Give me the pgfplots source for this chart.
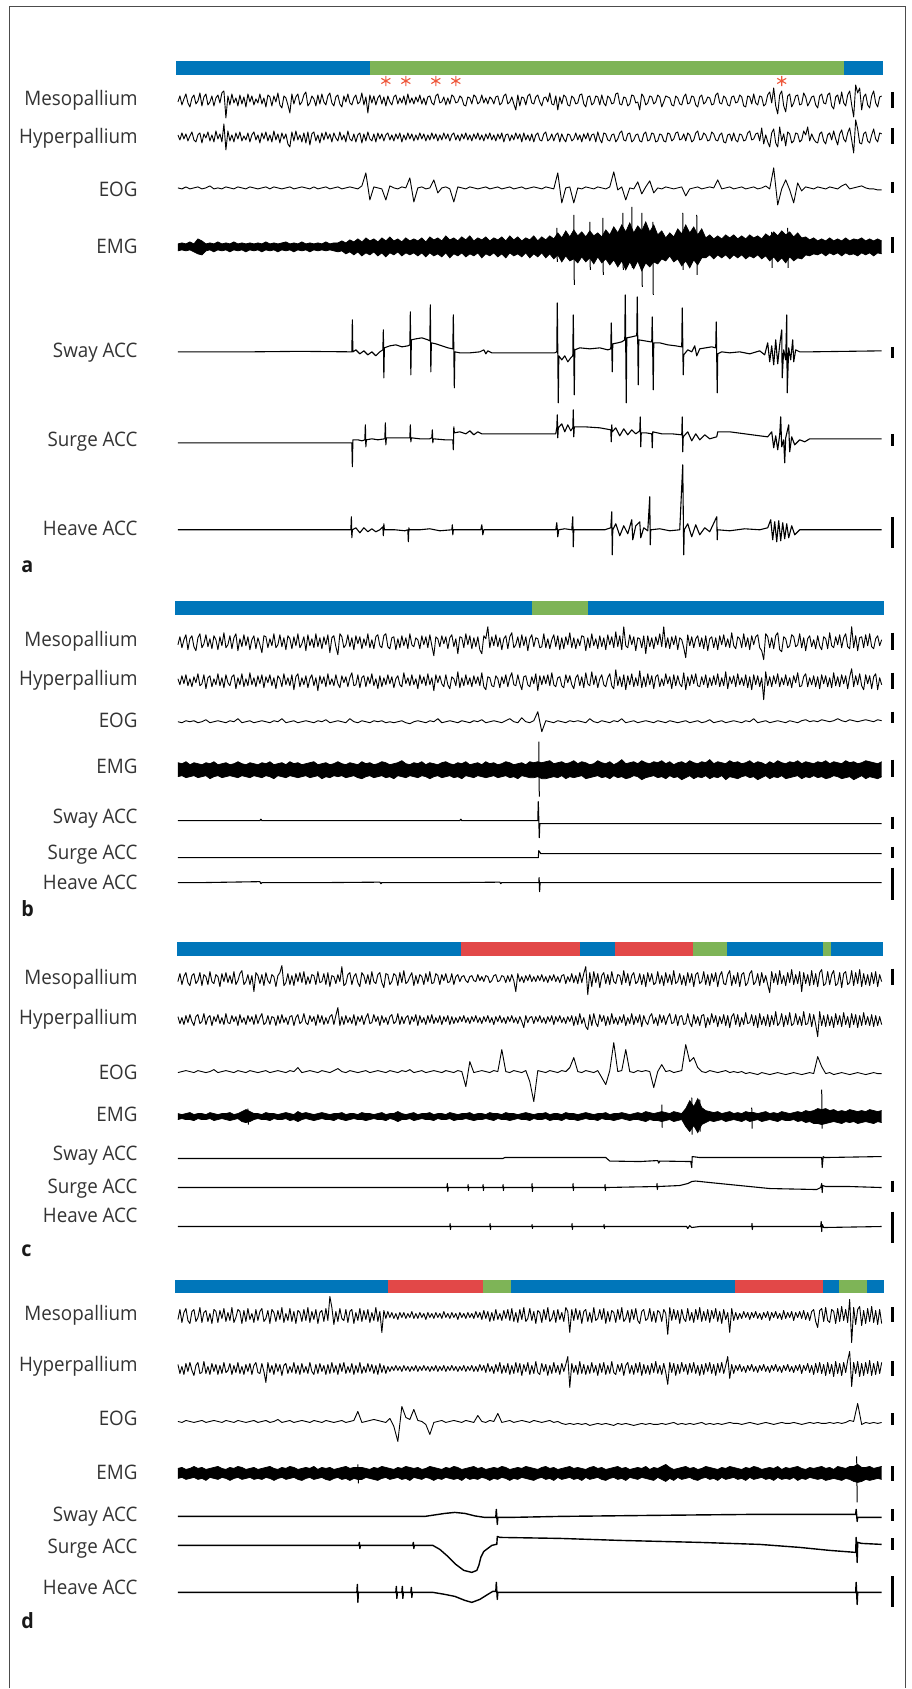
\documentclass[border=0pt]{standalone}
\usepackage{fontspec}
\setmainfont{Open Sans}[FakeStretch=0.94]
\usepackage{pgfplots}
\usepackage{pgfplotstable}
\usepgfplotslibrary{fillbetween}
\pgfplotsset{compat=1.18}

\definecolor{cblue}{RGB}{0,118,186}
\definecolor{cgreen}{RGB}{126,180,87}
\definecolor{cred}{RGB}{226,72,72}
\definecolor{cstar}{RGB}{238,88,60}

\tikzset{
  lab/.style={anchor=base east, inner sep=0pt, text=black!80, font=\fontsize{10}{12}\selectfont},
  plet/.style={anchor=base west, inner sep=0pt, text=black!90, font=\fontsize{10.5}{12}\selectfont\bfseries},
}

% EEG traces: x = pixel column, m = Mesopallium, h = Hyperpallium (offsets in px, + = down)
\pgfplotstableread{
x m h
178 2 -2
180 -4 3
182 5 -4
184 -1 2
186 -6 -3
188 3 4
190 7 -1
192 -2 -5
194 -5 3
196 4 5
198 1 -2
200 -7 -4
202 6 6
204 -3 -3
206 -6 1
208 5 -5
210 2 4
212 -4 -2
214 6 5
216 -2 -6
218 -5 2
220 3 -3
222 -7 5
224 -9 -13
226 18 13
228 -4 -6
230 5 4
232 -6 -2
234 3 5
236 -2 -4
238 6 2
240 -5 -5
242 4 4
244 -3 -1
246 7 3
248 -6 -4
250 2 5
252 -4 -2
254 5 -5
256 -1 3
258 3 -2
260 -6 6
262 4 -4
264 -2 2
266 7 -5
268 -5 4
270 -3 -2
272 6 5
274 -4 -6
276 2 3
278 -7 -3
280 5 6
282 8 -4
284 -4 2
286 -2 -3
288 5 7
290 13 10
292 -6 -5
294 4 4
296 -3 -6
298 -6 3
300 5 -2
302 2 5
304 -5 -4
306 -8 6
308 6 -5
310 3 8
312 -4 -3
314 -1 -5
316 6 4
318 -5 -2
320 4 6
322 -6 -4
324 2 3
326 5 -5
328 -4 2
330 -7 -3
332 3 5
334 6 -4
336 -3 1
338 -5 4
340 4 -5
342 7 3
344 -4 -2
346 2 5
348 -6 -6
350 3 2
352 5 4
354 -2 -3
356 -5 5
358 4 -2
360 2 -4
362 -7 6
364 5 -3
366 -3 4
368 13 -5
370 -5 2
372 3 4
374 -4 -3
376 5 5
378 -2 -4
380 -5 2
382 4 -3
384 -3 4
386 6 -2
388 -4 -4
390 2 3
392 5 -2
394 -3 4
396 -5 -3
398 4 2
400 -2 -4
402 3 5
404 -4 -2
406 5 3
408 -6 -4
410 3 2
412 -2 -3
414 4 4
416 -3 -2
418 2 3
420 -5 -4
422 4 2
424 -2 -3
426 5 4
428 -3 -2
430 -4 3
432 3 -4
434 5 2
436 -4 -3
438 -6 4
440 3 -2
442 2 3
444 -3 -4
446 5 2
448 -2 -3
450 4 4
452 -5 -2
454 -3 -4
456 3 3
458 2 -2
460 -4 4
462 -2 -3
464 5 2
466 6 -4
468 -3 3
470 -2 -2
472 4 4
474 -5 -3
476 -3 2
478 4 -4
480 2 3
482 -5 -2
484 3 4
486 -2 -3
488 4 2
490 -3 -4
492 -1 3
494 4 -2
496 -3 4
498 -4 -3
500 5 2
502 3 -4
504 -4 5
506 -6 -2
508 4 -3
510 2 4
512 -3 -2
514 4 3
516 10 -4
518 -5 2
520 6 -3
522 -3 5
524 -2 -4
526 5 3
528 -4 -2
530 -6 4
532 3 -3
534 4 5
536 -3 -2
538 -5 -4
540 2 3
542 6 4
544 -2 -3
546 -3 -5
548 2 4
550 -7 2
552 4 -3
554 5 4
556 -4 -2
558 10 -4
560 -3 5
562 4 -3
564 -5 2
566 -3 5
568 5 -3
570 6 -2
572 -4 4
574 -2 2
576 4 -4
578 3 3
580 -5 -2
582 -6 5
584 4 -3
586 7 2
588 -3 -4
590 -4 4
592 5 -2
594 3 -3
596 -4 5
598 -3 -5
600 5 2
602 -5 6
604 3 -4
606 6 -3
608 -4 3
610 -2 4
612 4 -2
614 3 -3
616 -6 5
618 -7 2
620 4 -4
622 5 -6
624 -3 3
626 -2 4
628 6 -3
630 4 -4
632 -5 5
634 -4 3
636 3 -2
638 2 -3
640 10 4
642 -6 5
644 -3 -3
646 5 -5
648 3 4
650 -4 3
652 -3 -4
654 4 -3
656 2 5
658 -5 4
660 -3 -3
662 7 -2
664 2 4
666 -4 5
668 -3 -4
670 -2 -3
672 5 4
674 6 2
676 -4 -4
678 -2 -5
680 4 3
682 5 2
684 -3 -3
686 -6 4
688 4 -4
690 3 -2
692 -4 5
694 -3 3
696 5 -4
698 7 -6
700 -3 3
702 -5 2
704 4 -4
706 2 -2
708 -3 4
710 -2 3
712 5 -5
714 4 -3
716 -5 3
718 -7 4
720 3 -2
722 4 -4
724 -4 5
726 -2 6
728 5 -2
730 6 -3
732 -3 4
734 -4 -4
736 3 3
738 2 5
740 -5 -3
742 -3 -2
744 6 4
746 7 3
748 -4 -4
750 -3 -6
752 4 3
754 -6 2
756 3 -3
758 5 -4
760 -4 4
762 -3 -9
764 6 7
766 4 -2
768 -5 5
770 -8 10
772 3 -4
774 -12 -8
776 6 6
778 14 10
780 -5 -10
782 -9 4
784 6 -3
786 12 9
788 -4 -5
790 -6 -3
792 7 6
794 3 4
796 -4 -4
798 -5 -3
800 5 5
802 4 3
804 -7 -6
806 -3 -2
808 6 -10
810 2 4
812 -3 -3
814 -4 2
816 5 5
818 8 6
820 -4 -3
822 -6 -5
824 3 4
826 4 7
828 -5 -2
830 -7 -4
832 6 3
834 9 -6
836 -3 2
838 -5 8
840 4 -3
842 -8 -7
844 3 2
846 6 5
848 -5 -4
850 -9 -9
852 5 3
854 17 16
856 -15 -17
858 -7 -8
860 -12 6
862 10 7
864 -3 -3
866 -6 -5
868 5 4
870 8 6
872 -4 -2
874 -9 -8
876 3 2
878 7 5
880 -3 -4
882 -4 -3
}\eegA

\pgfplotstableread{
x m h
178 3 -2
180 -5 4
182 6 -5
184 -2 3
186 -7 -6
188 8 5
190 -3 -2
192 -6 6
194 5 -4
196 9 2
198 -4 -7
200 -8 5
202 6 3
204 2 -6
206 -7 8
208 5 -3
210 -3 -5
212 7 6
214 -6 -2
216 -2 4
218 8 -7
220 -5 5
222 4 -3
224 -9 7
226 6 -6
228 3 2
230 -6 5
232 7 -4
234 -4 -6
236 -8 8
238 9 -3
240 -3 4
242 5 -7
244 -7 6
246 4 -2
248 -5 5
250 8 -8
252 -2 4
254 -6 -3
256 7 6
258 -4 -5
260 3 3
262 11 -6
264 -6 7
266 -5 -4
268 6 2
270 -3 -6
272 4 5
274 -8 -3
276 6 8
278 3 -5
280 -7 -2
282 5 6
284 -4 -7
286 8 4
288 -6 -3
290 -3 5
292 7 -6
294 -5 9
296 4 -4
298 -8 -7
300 6 6
302 2 -3
304 -5 4
306 9 -5
308 -7 7
310 4 -2
312 -3 -6
314 6 5
316 -8 -3
318 5 10
320 -4 -5
322 7 3
324 -5 -4
326 3 6
328 -7 -7
330 11 4
332 -4 -2
334 -6 5
336 5 -6
338 13 3
340 -8 7
342 -5 -5
344 6 2
346 3 -4
348 -7 6
350 5 -3
352 -4 -8
354 8 5
356 -6 4
358 2 -6
360 -5 7
362 7 -3
364 -3 -5
366 4 6
368 -8 -4
370 6 3
372 -2 -7
374 7 5
376 -5 -2
378 -7 8
380 4 -5
382 6 6
384 -6 -3
386 -8 4
388 5 -6
390 7 3
392 -4 -4
394 -5 7
396 8 -2
398 -3 -5
400 6 4
402 -6 6
404 4 -8
406 -4 3
408 7 -3
410 -8 5
412 3 -6
414 5 4
416 -4 -2
418 -2 8
420 7 -6
422 -6 3
424 3 -4
426 -5 5
428 6 -7
430 -7 4
432 4 -3
434 14 10
436 -5 -6
438 -3 2
440 5 -5
442 -6 3
444 2 6
446 -5 -6
448 7 4
450 -4 8
452 -7 -4
454 5 -2
456 -3 5
458 12 -9
460 -5 7
462 -4 -3
464 6 5
466 -8 -6
468 3 4
470 -6 -3
472 7 6
474 -4 -5
476 5 3
478 -5 -4
480 8 5
482 12 -8
484 -6 6
486 -3 9
488 -15 -4
490 6 -3
492 -5 5
494 4 6
496 -7 -5
498 5 -2
500 -4 7
502 8 -4
504 -3 3
506 -6 -6
508 7 6
510 -5 -3
512 -9 -8
514 6 4
516 3 5
518 -5 -6
520 6 3
522 -7 9
524 4 -4
526 -5 -5
528 9 4
530 -3 6
532 -7 -4
534 5 3
536 -4 -7
538 -3 10
540 6 -5
542 5 4
544 -8 -5
546 6 3
548 -3 -6
550 7 5
552 -2 -8
554 -7 4
556 5 6
558 -6 -3
560 8 -4
562 -4 5
564 7 7
566 -5 -6
568 3 2
570 -9 -5
572 6 4
574 -4 8
576 7 -3
578 -3 -6
580 4 5
582 -6 -4
584 -5 7
586 9 -8
588 -4 3
590 6 5
592 -8 -9
594 4 4
596 -3 -5
598 7 7
600 -6 -2
602 5 -6
604 -4 4
606 8 6
608 -7 -3
610 3 -7
612 -5 5
614 6 8
616 -10 -11
618 5 5
620 -6 -4
622 8 6
624 -15 -6
626 4 9
628 6 -5
630 -7 4
632 3 -7
634 -5 6
636 9 -3
638 -4 5
640 -3 -10
642 6 7
644 -6 -4
646 12 6
648 -6 -7
650 5 4
652 -4 -5
654 7 8
656 -5 -4
658 3 -6
660 -8 6
662 5 -2
664 -15 5
666 6 -7
668 -4 3
670 7 -4
672 -5 8
674 3 -6
676 -6 5
678 8 -5
680 -4 3
682 -2 6
684 6 -8
686 16 9
688 -7 -4
690 4 5
692 -5 -6
694 6 3
696 -3 -7
698 -6 5
700 5 6
702 -4 -4
704 7 4
706 -6 -6
708 9 7
710 -3 -3
712 -5 5
714 6 -5
716 -4 4
718 8 -7
720 -6 6
722 3 -3
724 -7 5
726 5 -9
728 -3 8
730 6 -4
732 -9 3
734 4 -5
736 7 6
738 -5 -7
740 -3 4
742 6 -3
744 -8 5
746 5 -6
748 -4 7
750 8 -4
752 -6 9
754 3 -6
756 -5 4
758 -7 -5
760 6 6
762 9 -3
764 18 19
766 -8 -9
768 -5 5
770 6 -4
772 -4 6
774 7 -5
776 -6 3
778 -9 -7
780 8 6
782 10 -3
784 -5 4
786 -3 -6
788 6 5
790 4 -3
792 -7 7
794 -5 -5
796 5 2
798 3 -8
800 -8 6
802 6 5
804 -4 -4
806 9 -7
808 -3 6
810 -6 -3
812 5 4
814 -2 -5
816 7 6
818 -6 -4
820 4 8
822 8 -6
824 -5 3
826 -3 -5
828 7 6
830 -9 -3
832 4 7
834 6 -8
836 -5 5
838 3 -4
840 -7 6
842 6 -6
844 -4 3
846 -8 -5
848 5 8
850 7 -4
852 -15 -12
854 6 6
856 -6 -5
858 9 4
860 -4 -7
862 -5 5
864 6 9
866 -7 -6
868 4 3
870 -8 -5
872 5 8
874 7 -4
876 -3 -7
878 -6 9
880 4 -3
882 -2 4
}\eegB

\pgfplotstableread{
x m h
178 3 -3
180 -5 4
182 6 -2
184 -2 5
186 -6 -4
188 4 3
190 7 -5
192 -3 2
194 -5 6
196 5 -3
198 2 -5
200 -6 4
202 7 2
204 -4 -6
206 -2 5
208 6 -2
210 -7 -4
212 3 6
214 5 -3
216 -4 2
218 -2 -5
220 8 4
222 -5 -2
224 3 5
226 -6 -6
228 4 3
230 -3 4
232 5 -4
234 -7 2
236 6 -3
238 2 6
240 -5 -5
242 -8 3
244 6 -2
246 3 5
248 -4 -4
250 6 2
252 -3 -3
254 13 5
256 -6 -5
258 -3 4
260 5 -2
262 -4 -6
264 7 5
266 -6 3
268 2 -4
270 5 5
272 -4 -3
274 -2 -2
276 8 6
278 -3 -4
280 -6 4
282 -13 -5
284 7 3
286 4 -2
288 -5 5
290 6 -3
292 -3 -4
294 7 6
296 -5 -2
298 3 -5
300 -6 4
302 4 2
304 -7 -6
306 6 3
308 -2 5
310 5 -4
312 -4 2
314 -3 -3
316 6 6
318 -7 -5
320 4 3
322 3 -4
324 -5 5
326 6 -2
328 -6 4
330 8 -3
332 -3 -5
334 -2 5
336 5 -4
338 -4 -12
340 3 6
342 -12 -3
344 7 5
346 5 -4
348 -4 3
350 -6 -2
352 6 4
354 -2 -5
356 -5 6
358 4 -3
360 8 2
362 -6 -4
364 -3 5
366 5 -2
368 -4 -6
370 6 4
372 -7 3
374 3 -5
376 5 2
378 -4 -3
380 -6 6
382 4 -4
384 9 3
386 -5 -2
388 -4 5
390 6 -3
392 3 -5
394 -5 4
396 -3 2
398 7 -6
400 -6 5
402 4 -3
404 -8 4
406 5 -2
408 3 -4
410 -2 5
412 -6 -3
414 7 2
416 -3 -5
418 5 6
420 -4 -4
422 -2 3
424 6 -2
426 -5 5
428 3 -4
430 -7 3
432 5 -5
434 4 4
436 -5 -2
438 -3 3
440 6 -4
442 -4 5
444 2 -3
446 -5 2
448 4 -4
450 3 5
452 -5 -3
454 6 4
456 -2 -2
458 -4 3
460 3 -3
462 -2 2
464 -3 -4
466 2 3
468 4 -2
470 -2 4
472 -3 -3
474 2 2
476 3 -4
478 -4 3
480 2 -2
482 -2 4
484 3 -3
486 -3 2
488 -2 -4
490 4 3
492 2 -2
494 -3 5
496 -4 -3
498 3 2
500 2 -4
502 -3 3
504 -2 -2
506 4 4
508 -3 -3
510 3 2
512 -4 -4
514 2 3
516 13 -2
518 -5 4
520 3 -3
522 -2 2
524 4 8
526 -3 -4
528 2 3
530 -4 -2
532 3 -3
534 -2 4
536 3 -3
538 -3 2
540 2 -4
542 -4 3
544 3 -2
546 -2 4
548 4 -3
550 -3 2
552 2 -4
554 -4 5
556 3 -3
558 -2 2
560 4 -4
562 -3 3
564 -4 -2
566 5 4
568 -2 -3
570 3 2
572 -5 -4
574 4 6
576 -3 -3
578 5 5
580 -6 -6
582 4 4
584 -5 -2
586 -12 7
588 16 10
590 -6 -5
592 8 6
594 -7 -6
596 4 3
598 -5 7
600 9 -5
602 -3 2
604 -6 -4
606 5 6
608 -4 -3
610 6 5
612 -7 -6
614 3 4
616 5 -2
618 -4 5
620 -3 -3
622 6 3
624 -8 -5
626 4 6
628 -5 -2
630 7 4
632 -3 -6
634 -6 5
636 5 -3
638 3 3
640 -5 -5
642 6 7
644 -4 -4
646 8 2
648 -6 5
650 3 -3
652 -5 -6
654 6 4
656 4 -2
658 -7 6
660 5 -5
662 -3 3
664 7 -4
666 -6 5
668 4 -2
670 -4 -6
672 6 4
674 -8 3
676 5 -5
678 3 6
680 -5 -3
682 6 -4
684 -3 5
686 7 4
688 -6 -6
690 4 3
692 -5 7
694 8 -5
696 -4 4
698 -6 -3
700 5 6
702 3 -4
704 -7 -5
706 6 8
708 -4 -2
710 7 5
712 -5 -6
714 3 3
716 -6 -4
718 8 7
720 -3 -3
722 -7 4
724 5 -5
726 6 6
728 -4 -4
730 -8 8
732 7 -3
734 -3 -6
736 5 5
738 -6 -5
740 8 7
742 -4 -2
744 -6 5
746 7 -7
748 4 4
750 -5 3
752 -8 -5
754 6 6
756 3 -4
758 -5 8
760 7 -6
762 -6 5
764 4 -3
766 -3 6
768 6 -5
770 14 7
772 -7 -4
774 4 5
776 -5 -8
778 6 6
780 -8 3
782 5 -6
784 -3 7
786 7 -4
788 -6 5
790 4 -7
792 -9 6
794 6 4
796 -4 -6
798 5 5
800 -7 -3
802 13 6
804 -6 -8
806 5 5
808 -4 4
810 7 -6
812 -8 7
814 6 -5
816 -5 5
818 8 17
820 -6 -8
822 -9 6
824 7 -4
826 5 7
828 -7 -5
830 6 6
832 -4 -3
834 -8 8
836 7 -6
838 5 5
840 -6 -4
842 9 7
844 -5 -7
846 -7 5
848 6 -3
850 4 8
852 -8 -6
854 7 5
856 -6 -5
858 5 8
860 -9 -4
862 8 6
864 -5 -7
866 6 5
868 -4 -3
870 7 6
872 -6 -5
874 5 7
876 -7 -4
878 8 6
880 -4 -3
882 3 5
}\eegC

\pgfplotstableread{
x m h
178 4 -4
180 -6 5
182 7 -2
184 -3 6
186 -7 -5
188 5 3
190 8 -6
192 -4 2
194 -6 7
196 6 -3
198 2 -6
200 -8 5
202 7 4
204 -3 -7
206 -5 5
208 6 -2
210 -2 6
212 8 -5
214 -6 3
216 -4 -4
218 7 6
220 -5 -3
222 3 5
224 -7 -6
226 6 4
228 -3 2
230 5 -5
232 -8 6
234 7 -3
236 2 4
238 -6 -6
240 -4 5
242 8 -2
244 -5 6
246 6 -4
248 -7 3
250 4 -5
252 -2 6
254 7 -3
256 -6 -6
258 5 4
260 -4 5
262 -7 -5
264 6 3
266 3 14
268 -5 -6
270 8 4
272 -6 -3
274 -3 6
276 6 -5
278 -5 3
280 4 -4
282 -8 7
284 7 -3
286 -2 -5
288 5 5
290 -7 -2
292 6 4
294 -4 -6
296 8 5
298 -5 -3
300 -3 6
302 6 -5
304 -6 4
306 5 -2
308 -8 5
310 7 -6
312 -4 3
314 4 6
316 -6 -4
318 8 5
320 -3 -5
322 -5 3
324 6 -3
326 -7 6
328 5 -4
330 -19 5
332 -8 -6
334 9 4
336 -4 -3
338 6 6
340 -7 -5
342 3 3
344 5 -6
346 -6 5
348 7 -2
350 -4 4
352 -6 -5
354 8 6
356 -3 -3
358 5 4
360 -7 -6
362 6 5
364 -5 -2
366 4 4
368 -6 -5
370 7 3
372 -3 -4
374 5 5
376 -8 -3
378 6 6
380 -4 -5
382 17 4
384 -5 -3
386 3 5
388 -4 -2
390 2 3
392 -3 -2
394 3 2
396 -2 -3
398 4 2
400 -3 -2
402 2 3
404 -3 -3
406 3 2
408 -2 -2
410 2 3
412 -4 -2
414 3 2
416 -2 -3
418 3 3
420 -3 -2
422 2 2
424 -2 -3
426 4 2
428 -3 -2
430 2 3
432 -2 -2
434 3 2
436 -3 -3
438 2 3
440 -2 -2
442 3 2
444 -4 -3
446 2 3
448 -2 -2
450 3 2
452 -3 -3
454 2 2
456 -2 -2
458 4 3
460 -3 -2
462 2 2
464 -2 -3
466 3 3
468 -3 -2
470 2 2
472 -2 -3
474 3 3
476 -4 -2
478 2 3
480 -3 -4
482 4 2
484 -5 -3
486 3 4
488 -4 -5
490 6 3
492 -3 -2
494 5 5
496 -6 -4
498 4 3
500 -2 -6
502 5 5
504 -5 -3
506 3 4
508 -6 -5
510 5 6
512 -7 -3
514 6 5
516 -3 -6
518 7 4
520 -6 -5
522 4 7
524 -8 -4
526 6 3
528 3 -6
530 -7 6
532 5 -3
534 -4 5
536 8 -7
538 -5 4
540 -3 6
542 7 -5
544 -6 3
546 4 -4
548 -8 7
550 6 -3
552 3 5
554 -5 -6
556 7 4
558 -6 -3
560 4 6
562 -3 -5
564 6 3
566 -8 -4
568 -4 -12
570 17 19
572 -6 -5
574 5 4
576 -7 -3
578 4 6
580 -5 -7
582 8 5
584 -4 -4
586 -6 6
588 6 -3
590 -3 5
592 7 -6
594 -8 4
596 5 -3
598 3 7
600 -6 -5
602 4 4
604 -7 -6
606 8 6
608 -4 -3
610 6 5
612 -5 -7
614 -3 4
616 7 6
618 -6 -4
620 4 3
622 -8 -5
624 6 7
626 3 -3
628 -5 -6
630 7 5
632 -6 -3
634 4 6
636 -7 -5
638 5 4
640 8 -6
642 -4 7
644 -6 -4
646 5 5
648 3 -3
650 -7 6
652 6 -5
654 -4 4
656 7 -7
658 -5 5
660 -3 -3
662 6 6
664 -6 -5
666 -2 4
668 19 16
670 -8 -6
672 5 4
674 -6 -5
676 4 7
678 -5 -4
680 8 5
682 -6 -6
684 3 3
686 6 -4
688 -7 6
690 5 -5
692 -3 4
694 7 -6
696 -6 5
698 4 -3
700 -8 7
702 6 -4
704 -4 6
706 5 -5
708 -6 3
710 7 -6
712 -5 5
714 3 -4
716 -7 7
718 6 -5
720 -4 4
722 8 -6
724 -6 5
726 4 -3
728 -3 -12
730 17 10
732 -7 -4
734 5 5
736 -3 -3
738 4 2
740 -2 -4
742 3 3
744 -4 -2
746 2 4
748 -3 -3
750 4 2
752 -3 -4
754 2 3
756 -4 -2
758 3 4
760 -2 -3
762 4 2
764 -3 -4
766 2 3
768 -4 -2
770 5 4
772 -3 -3
774 2 2
776 -4 -4
778 3 3
780 -2 -2
782 4 4
784 -5 -3
786 3 2
788 -3 -4
790 2 3
792 -4 -2
794 5 4
796 -3 -3
798 2 2
800 -4 -4
802 3 5
804 -5 -3
806 4 2
808 -3 -5
810 5 4
812 -4 -3
814 -6 6
816 6 -5
818 12 4
820 -5 -6
822 -7 5
824 6 -4
826 -8 7
828 5 -6
830 7 5
832 -6 -4
834 -4 8
836 8 -7
838 -7 5
840 6 -5
842 -9 7
844 5 -6
846 -6 4
848 7 -8
850 -16 -17
852 27 18
854 -8 -6
856 9 5
858 -6 -7
860 -9 8
862 10 -5
864 -5 7
866 8 -6
868 -7 5
870 6 -8
872 -9 7
874 7 -5
876 -5 6
878 9 -7
880 -6 5
882 8 -6
}\eegD

% EOG (e) and EMG upper/lower envelope (u, l), offsets in px
\pgfplotstableread{
x e u l
178 0 -3 4
182 1 -4 3
186 -1 -3 4
190 1 -5 3
194 0 -3 5
198 -1 -8 7
202 1 -6 8
206 0 -3 4
210 -2 -4 3
214 1 -3 5
218 0 -5 3
222 1 -3 4
226 -1 -4 3
230 0 -3 5
234 1 -5 3
238 -1 -3 4
242 0 -4 3
246 1 -3 5
250 -1 -4 3
254 0 -3 4
258 1 -4 3
262 0 -3 5
266 -1 -5 3
270 1 -3 4
274 -1 -4 3
278 0 -3 5
282 1 -4 3
286 0 -5 4
290 -1 -3 3
294 1 -4 5
298 0 -3 3
302 -1 -5 4
306 0 -3 3
310 1 -4 5
314 -1 -3 3
318 1 -4 4
322 0 -3 3
326 -1 -5 4
330 1 -3 3
334 0 -4 4
338 -1 -4 5
342 1 -6 4
346 0 -4 7
350 -1 -7 5
354 0 -5 8
358 1 -8 5
362 -2 -5 9
366 -15 -9 6
370 12 -6 8
374 -1 -8 5
378 0 -5 9
382 1 -9 6
386 12 -6 10
390 -2 -10 6
394 0 -6 8
398 1 -8 5
402 -1 -5 9
406 0 -9 6
410 -10 -6 8
414 14 -8 6
418 0 -6 9
422 -1 -9 6
426 1 -5 10
430 0 -10 6
434 -8 -7 9
438 5 -9 7
442 0 -6 10
446 -1 -11 6
450 1 -7 11
454 14 -9 7
458 -1 -6 9
462 0 -10 6
466 1 -7 10
470 -1 -11 7
474 0 -6 9
478 1 -9 6
482 0 -7 11
486 -1 -10 7
490 1 -6 9
494 0 -9 6
498 -1 -7 10
502 1 -10 7
506 0 -6 11
510 -1 -11 6
514 1 -7 9
518 0 -10 7
522 -1 -6 10
526 1 -9 6
530 0 -7 11
534 -1 -11 7
538 0 -6 10
542 1 -10 6
546 -1 -7 11
550 0 -11 7
554 1 -8 12
558 -15 -14 8
562 15 -9 15
566 0 -16 9
570 -1 -10 14
574 15 -17 12
578 0 -11 16
582 1 -15 10
586 -1 -10 15
590 0 -16 11
594 1 -11 17
598 -1 -14 10
602 0 -10 16
606 1 -17 12
610 -1 -12 18
614 -16 -20 13
618 2 -14 20
622 -1 -22 14
626 12 -15 23
630 0 -24 15
634 1 -14 22
638 -6 -21 14
642 6 -16 24
646 -1 -25 16
650 -7 -15 20
654 5 -22 15
658 0 -12 17
662 1 -16 12
666 -1 -9 14
670 0 -14 9
674 1 -10 15
678 0 -18 12
682 -1 -13 19
686 8 -22 14
690 1 -14 21
694 0 -20 13
698 -1 -12 18
702 1 -18 11
706 0 -9 11
710 -1 -12 8
714 0 -8 12
718 -8 -11 8
722 1 -8 11
726 0 -12 8
730 -1 -9 12
734 1 -12 8
738 0 -8 11
742 -1 -11 8
746 1 -8 12
750 0 -12 9
754 -1 -9 11
758 1 -11 8
762 0 -8 12
766 -2 -13 9
770 1 -10 14
774 -20 -15 10
778 17 -11 15
782 1 -16 11
786 -8 -12 16
790 2 -15 10
794 15 -10 14
798 -5 -14 11
802 3 -9 12
806 -1 -10 8
810 0 -7 9
814 1 -9 7
818 -1 -6 8
822 0 -8 6
826 1 -6 9
830 -1 -9 6
834 0 -6 8
838 1 -8 6
842 -2 -6 9
846 -4 -9 6
850 1 -6 8
854 0 -8 7
858 -1 -7 9
862 -2 -9 6
866 0 -6 8
870 1 -8 6
874 1 -6 9
878 2 -8 6
882 2 -6 7
}\panelA

\pgfplotstableread{
x e u l
178 0 -7 7
182 1 -6 6
186 -1 -8 8
190 0 -5 7
194 -1 -7 6
198 1 -6 8
202 0 -5 7
206 -2 -7 6
210 1 -6 9
214 0 -8 7
218 -1 -5 6
222 0 -6 8
226 1 -7 7
230 -1 -5 6
234 0 -6 7
238 -3 -8 8
242 1 -6 6
246 0 -5 7
250 -1 -7 8
254 1 -6 6
258 0 -5 7
262 -1 -7 8
266 0 -6 6
270 1 -8 7
274 -1 -5 9
278 0 -6 6
282 -3 -7 7
286 1 -5 8
290 0 -8 6
294 -1 -6 7
298 1 -7 8
302 0 -5 7
306 -1 -6 6
310 0 -7 8
314 1 -8 7
318 -1 -5 6
322 0 -6 9
326 -2 -7 7
330 1 -5 8
334 0 -6 6
338 -1 -8 7
342 0 -6 6
346 1 -5 8
350 -3 -7 7
354 0 -6 6
358 1 -5 8
362 -1 -8 9
366 0 -6 7
370 1 -7 6
374 -1 -5 8
378 0 -6 7
382 -1 -8 6
386 1 -7 8
390 0 -5 7
394 1 -6 9
398 0 -7 6
402 -1 -9 7
406 1 -6 8
410 2 -5 6
414 0 -7 7
418 -1 -6 8
422 0 -8 6
426 1 -5 7
430 -1 -7 9
434 0 -6 7
438 -3 -5 6
442 1 -7 8
446 0 -8 7
450 -1 -6 6
454 0 -5 8
458 1 -7 7
462 -1 -6 9
466 0 -8 6
470 1 -5 7
474 -1 -6 8
478 0 -7 6
482 -2 -5 7
486 1 -8 8
490 0 -6 7
494 -1 -7 6
498 0 -5 8
502 1 -6 7
506 -1 -8 6
510 -3 -7 8
514 0 -5 7
518 1 -6 9
522 -4 -7 6
526 0 -5 7
530 1 -8 8
534 -1 -7 8
538 -10 -8 7
542 10 -7 9
546 -1 -8 9
550 0 -9 8
554 1 -6 7
558 -1 -7 8
562 0 -8 6
566 1 -6 9
570 -1 -7 7
574 0 -9 8
578 -1 -6 7
582 0 -8 6
586 1 -7 9
590 -3 -5 8
594 0 -6 7
598 1 -9 6
602 -1 -7 8
606 0 -6 7
610 1 -8 9
614 -1 -5 6
618 0 -7 8
622 -3 -10 7
626 1 -6 9
630 0 -7 8
634 -1 -8 6
638 1 -6 7
642 0 -9 10
646 -1 -7 8
650 0 -6 7
654 1 -8 6
658 -1 -7 8
662 0 -9 7
666 1 -6 9
670 -1 -8 6
674 0 -5 8
678 1 -7 7
682 0 -8 10
686 -1 -6 8
690 1 -9 6
694 0 -7 9
698 -1 -6 7
702 1 -8 8
706 0 -7 6
710 -2 -10 9
714 1 -6 7
718 0 -8 8
722 -1 -7 6
726 1 -6 10
730 0 -9 7
734 -1 -7 8
738 0 -8 9
742 1 -6 7
746 -1 -7 6
750 0 -9 8
754 -3 -6 7
758 1 -8 10
762 0 -7 8
766 -1 -5 6
770 1 -8 9
774 0 -6 7
778 -1 -9 8
782 0 -7 6
786 1 -6 9
790 -1 -8 8
794 0 -7 7
798 1 -9 6
802 -1 -6 9
806 -2 -8 7
810 0 -7 8
814 -1 -6 6
818 0 -8 8
822 -2 -7 7
826 -1 -9 9
830 0 -6 8
834 -1 -8 6
838 -3 -7 7
842 -1 -6 9
846 0 -9 8
850 -2 -7 7
854 -1 -8 10
858 0 -6 8
862 -1 -7 6
866 -2 -9 9
870 -1 -8 7
874 0 -7 8
878 -2 -6 9
882 -1 -8 7
}\panelB

\pgfplotstableread{
x e u l
178 1 -3 3
182 0 -2 2
186 -1 -3 3
190 0 -4 3
194 1 -2 4
198 -1 -3 2
202 0 -3 3
206 1 -2 3
210 0 -4 2
214 -2 -3 4
218 1 -2 3
222 0 -3 2
226 -1 -3 3
230 0 -4 4
234 1 -2 3
238 -1 -3 2
242 0 -5 5
246 1 -7 6
250 -1 -5 5
254 0 -3 3
258 1 -3 2
262 0 -2 3
266 -1 -4 3
270 1 -3 4
274 0 -3 2
278 -1 -2 3
282 0 -3 3
286 1 -4 2
290 -1 -3 4
294 0 -2 3
298 -4 -5 5
302 1 -3 3
306 0 -4 2
310 -1 -3 3
314 0 -2 4
318 1 -3 3
322 -1 -4 2
326 0 -3 3
330 1 -2 3
334 -1 -3 4
338 -3 -3 2
342 0 -4 3
346 1 -2 4
350 -1 -3 3
354 0 -3 2
358 1 -2 3
362 0 -4 3
366 -1 -3 4
370 1 -3 3
374 0 -2 2
378 -1 -3 3
382 0 -4 3
386 1 -2 4
390 -1 -3 2
394 0 -3 3
398 1 -5 5
402 -1 -3 3
406 0 -2 3
410 -2 -3 2
414 1 -4 4
418 0 -2 3
422 -1 -3 2
426 1 -3 3
430 0 -4 3
434 -1 -2 4
438 0 -3 2
442 1 -3 3
446 -1 -2 3
450 0 -4 2
454 1 -3 4
458 -1 -2 3
462 0 -3 3
466 15 -3 2
470 -10 -4 3
474 1 -2 4
478 0 -3 3
482 -1 -3 3
486 0 -2 2
490 1 -4 3
494 -1 -3 4
498 0 -3 2
502 -22 -2 3
506 0 -4 3
510 1 -3 4
514 -1 -3 3
518 0 -2 2
522 1 -3 3
526 -1 -4 3
530 10 -3 4
534 30 -2 2
538 -1 -3 3
542 0 -3 3
546 1 -4 2
550 -1 -2 4
554 0 -3 3
558 1 -3 3
562 -1 -2 4
566 0 -4 2
570 -4 -3 3
574 -14 -3 3
578 0 -2 4
582 1 -3 3
586 -1 -4 2
590 0 -3 3
594 1 -2 3
598 -1 -3 4
602 6 -3 2
606 13 -4 3
610 -1 -2 3
614 -29 -3 4
618 0 -3 3
622 -1 -4 2
626 -22 -3 3
630 0 -2 4
634 1 -3 3
638 -1 -4 3
642 0 -3 4
646 -1 -5 5
650 0 -4 3
654 16 -3 4
658 0 -4 4
662 -7 -5 5
666 0 -4 4
670 -1 -3 3
674 1 -5 5
678 0 -4 4
682 -1 -3 3
686 -27 -8 10
690 -10 -16 15
694 -14 -10 9
698 -4 -18 16
702 0 -9 8
706 1 -6 6
710 -1 -5 4
714 0 -4 5
718 1 -5 4
722 0 -3 3
726 -1 -4 5
730 1 -5 4
734 0 -3 3
738 1 -4 4
742 0 -3 5
746 2 -5 3
750 1 -4 5
754 2 -4 4
758 3 -3 3
762 1 -4 5
766 2 -5 4
770 3 -3 3
774 2 -4 4
778 1 -3 5
782 2 -5 3
786 3 -4 4
790 2 -3 4
794 1 -4 3
798 2 -5 5
802 3 -4 4
806 2 -6 6
810 1 -5 5
814 2 -6 7
818 -15 -8 7
822 -5 -7 8
826 2 -8 7
830 1 -6 6
834 3 -7 5
838 2 -5 6
842 1 -6 7
846 2 -5 5
850 3 -7 6
854 2 -6 5
858 1 -5 7
862 2 -6 6
866 3 -5 5
870 2 -7 6
874 1 -6 7
878 2 -5 5
882 2 -6 6
}\panelC

\pgfplotstableread{
x e u l
178 0 -5 5
182 1 -6 4
186 -1 -4 6
190 0 -5 5
194 1 -7 4
198 0 -5 6
202 -1 -6 5
206 1 -4 7
210 0 -5 4
214 -1 -6 5
218 0 -7 6
222 1 -5 4
226 -1 -4 5
230 0 -6 7
234 1 -5 5
238 -1 -7 4
242 0 -6 6
246 1 -4 5
250 0 -5 4
254 -1 -6 6
258 1 -4 5
262 0 -5 6
266 -1 -6 4
270 1 -7 5
274 0 -5 7
278 -2 -4 5
282 1 -6 4
286 0 -5 6
290 -1 -7 5
294 1 -6 4
298 0 -4 6
302 -1 -5 7
306 0 -6 5
310 1 -5 4
314 -1 -7 6
318 0 -4 5
322 1 -6 4
326 -1 -5 6
330 0 -6 7
334 1 -4 5
338 0 -5 4
342 -1 -6 6
346 1 -7 5
350 0 -5 7
354 -1 -6 5
358 -10 -6 6
362 1 -6 6
366 0 -5 4
370 -1 -4 5
374 -2 -6 6
378 -1 -5 7
382 0 -7 5
386 1 -6 4
390 -3 -5 6
394 5 -4 5
398 20 -6 4
402 -15 -5 6
406 -4 -7 5
410 -2 -6 7
414 -12 -5 4
418 -1 -6 5
422 0 -4 6
426 3 -5 4
430 13 -7 5
434 1 -6 7
438 0 -5 5
442 -1 -4 6
446 1 -6 4
450 0 -5 5
454 -1 -7 6
458 0 -6 5
462 1 -4 7
466 -1 -5 4
470 0 -6 6
474 1 -7 5
478 -6 -5 6
482 0 -6 4
486 1 -4 5
490 -1 -5 7
494 0 -6 5
498 -8 -5 6
502 1 -7 4
506 0 -6 5
510 -1 -4 7
514 1 -5 5
518 0 -6 6
522 -1 -5 4
526 0 -7 5
530 1 -6 6
534 -1 -5 7
538 0 -4 5
542 1 -6 4
546 0 -7 6
550 -1 -5 5
554 1 -6 7
558 0 -4 4
562 2 -5 6
566 3 -6 5
570 2 -7 4
574 3 -5 6
578 2 -6 5
582 3 -5 7
586 2 -4 4
590 4 -6 6
594 3 -7 5
598 2 -5 4
602 3 -6 6
606 2 -4 7
610 3 -5 5
614 4 -6 4
618 2 -7 6
622 3 -5 5
626 2 -6 7
630 3 -4 4
634 4 -5 5
638 3 -6 6
642 2 -5 4
646 3 -7 5
650 2 -4 6
654 3 -6 7
658 3 -5 4
662 2 -7 6
666 3 -9 8
670 2 -6 5
674 1 -4 7
678 3 -5 4
682 2 -6 6
686 3 -7 5
690 2 -5 4
694 3 -6 6
698 2 -4 7
702 1 -5 5
706 3 -7 4
710 2 -6 6
714 3 -5 5
718 2 -4 7
722 3 -6 4
726 2 -5 6
730 1 -7 5
734 2 -6 4
738 2 -5 6
742 3 -4 5
746 2 -6 7
750 1 -5 4
754 2 -7 6
758 3 -6 5
762 2 -4 4
766 1 -5 6
770 2 -6 5
774 3 -5 7
778 2 -7 4
782 1 -4 6
786 2 -6 5
790 2 -5 6
794 1 -6 4
798 2 -7 7
802 3 -5 5
806 2 -4 6
810 1 -6 4
814 2 -5 5
818 1 -6 6
822 2 -7 5
826 2 -5 7
830 1 -6 6
834 2 -4 5
838 1 -7 6
842 2 -6 7
846 1 -5 5
850 -1 -7 6
854 0 -7 8
858 -18 -9 9
862 3 -6 8
866 1 -6 6
870 2 -7 7
874 1 -5 6
878 2 -6 5
882 1 -7 6
}\panelD

\begin{document}
\begin{tikzpicture}
\begin{axis}[
  scale only axis,
  width=456pt, height=844.5pt,
  xmin=0, xmax=912, ymin=0, ymax=1689,
  y dir=reverse,
  hide axis,
  clip=false,
  trace/.style={black, line width=0.45pt, line join=round, mark=none},
  acc/.style={black, line width=0.55pt, line join=round, mark=none},
  env/.style={black, line width=0.35pt, mark=none},
  hair/.style={black, line width=0.5pt, mark=none, unbounded coords=jump},
  seg/.style={draw=none, fill=#1, mark=none},
]
\path (axis cs:0,0) rectangle (axis cs:912,1689);
\draw[black!70, line width=0.65pt] (axis cs:9.8,1689) -- (axis cs:9.8,6.5) -- (axis cs:906,6.5) -- (axis cs:906,1689);

% ---------- state bars ----------
\addplot[seg=cblue] coordinates {(176,61) (370,61) (370,75) (176,75)} -- cycle;
\addplot[seg=cgreen] coordinates {(370,61) (844,61) (844,75) (370,75)} -- cycle;
\addplot[seg=cblue] coordinates {(844,61) (883,61) (883,75) (844,75)} -- cycle;

\addplot[seg=cblue] coordinates {(175,601) (532,601) (532,615) (175,615)} -- cycle;
\addplot[seg=cgreen] coordinates {(532,601) (588,601) (588,615) (532,615)} -- cycle;
\addplot[seg=cblue] coordinates {(588,601) (884,601) (884,615) (588,615)} -- cycle;

\addplot[seg=cblue] coordinates {(177,942) (461,942) (461,956) (177,956)} -- cycle;
\addplot[seg=cred] coordinates {(461,942) (580,942) (580,956) (461,956)} -- cycle;
\addplot[seg=cblue] coordinates {(580,942) (615,942) (615,956) (580,956)} -- cycle;
\addplot[seg=cred] coordinates {(615,942) (693,942) (693,956) (615,956)} -- cycle;
\addplot[seg=cgreen] coordinates {(693,942) (727,942) (727,956) (693,956)} -- cycle;
\addplot[seg=cblue] coordinates {(727,942) (823,942) (823,956) (727,956)} -- cycle;
\addplot[seg=cgreen] coordinates {(823,942) (831,942) (831,956) (823,956)} -- cycle;
\addplot[seg=cblue] coordinates {(831,942) (883,942) (883,956) (831,956)} -- cycle;

\addplot[seg=cblue] coordinates {(175,1280) (388,1280) (388,1294) (175,1294)} -- cycle;
\addplot[seg=cred] coordinates {(388,1280) (483,1280) (483,1294) (388,1294)} -- cycle;
\addplot[seg=cgreen] coordinates {(483,1280) (511,1280) (511,1294) (483,1294)} -- cycle;
\addplot[seg=cblue] coordinates {(511,1280) (735,1280) (735,1294) (511,1294)} -- cycle;
\addplot[seg=cred] coordinates {(735,1280) (823,1280) (823,1294) (735,1294)} -- cycle;
\addplot[seg=cblue] coordinates {(823,1280) (839,1280) (839,1294) (823,1294)} -- cycle;
\addplot[seg=cgreen] coordinates {(839,1280) (867,1280) (867,1294) (839,1294)} -- cycle;
\addplot[seg=cblue] coordinates {(867,1280) (884,1280) (884,1294) (867,1294)} -- cycle;

\addplot[only marks, mark=asterisk, mark size=2.6pt, color=cstar, mark options={line width=0.55pt}]
  coordinates {(386,81) (406,81) (436,81) (456,81) (782,81)};

% ---------- panel a ----------
\addplot[trace] table[x=x, y expr=\thisrow{m}+100] {\eegA};
\addplot[trace] table[x=x, y expr=\thisrow{h}+137] {\eegA};
\addplot[trace] table[x=x, y expr=\thisrow{e}+188] {\panelA};
\addplot[env, name path=aU] table[x=x, y expr=\thisrow{u}+247] {\panelA};
\addplot[env, name path=aL] table[x=x, y expr=\thisrow{l}+247] {\panelA};
\addplot[black] fill between[of=aU and aL];
\addplot[hair] coordinates {(557,228) (557.5,262) (557.5,nan) (574,215) (574.5,285) (574.5,nan)
  (590,222) (590.5,270) (590.5,nan) (603,218) (603.5,275) (603.5,nan) (623,213) (623.5,270) (623.5,nan)
  (632,207) (632.5,268) (632.5,nan) (642,213) (642.5,287) (642.5,nan) (653,222) (653.5,295) (653.5,nan)
  (683,213) (683.5,270) (683.5,nan) (697,215) (697.5,275) (697.5,nan) (772,232) (772.5,268) (772.5,nan)
  (788,228) (788.5,268)};
\addplot[acc] coordinates {(178,352) (250,352) (300,351.5) (352,352) (352.5,320) (353,352) (356,350) (360,354) (364,351) (368,355) (372,352) (376,356) (380,352) (383,350) (383.5,330) (384,378) (384.5,348) (390,346) (396,345) (402,347) (408,346) (410,345) (410.5,312) (411,375) (411.5,340) (416,339) (422,338) (428,340) (430,341) (430.5,305) (431,372) (431.5,343) (436,344) (442,346) (448,348) (453,349) (453.5,315) (454.5,388) (455,352) (460,353) (470,353) (480,352) (484,350) (486,354) (488,351) (492,353) (520,353) (555,353) (557,352) (557.5,303) (558.5,403) (559,356) (562,360) (565,356) (568,362) (571,358) (573,356) (573.5,315) (574.5,395) (575,350) (580,348) (590,349) (600,348) (608,350) (611,349) (611.5,323) (612.5,372) (613,344) (618,343) (622,342) (625,340) (625.5,295) (626.5,403) (627,338) (632,337) (636,336) (637,336) (637.5,297) (638.5,385) (639,340) (645,341) (651,342) (652,342) (652.5,317) (653.5,390) (654,343) (660,343) (668,345) (676,346) (682,347) (682.5,308) (683.5,375) (684,355) (688,350) (692,352) (695,346) (697,356) (700,349) (706,348) (712,347) (716,348) (716.5,322) (717.5,393) (718,354) (722,352) (730,353) (740,352) (750,354) (760,351) (765,355) (768,343) (770,362) (772,346) (774,365) (776,340) (778,364) (780,345) (782,330) (782.5,378) (784,350) (786,360) (787,315) (787.5,393) (789,348) (791,360) (793,340) (794,362) (796,350) (800,352) (810,352) (882,351)};
\addplot[acc] coordinates {(178,443) (300,443) (350,443) (352,443) (352.5,467) (353,440) (358,440) (362,441) (365,440) (365.5,425) (366,447) (366.5,440) (372,439) (378,440) (385,439) (385.5,423) (386,445) (386.5,438) (395,438) (405,438) (410,438) (410.5,425) (411,442) (411.5,438) (420,439) (430,439) (432,438) (432.5,430) (433,443) (433.5,439) (445,440) (453,440) (453.5,450) (454,427) (454.5,433) (460,432) (466,434) (470,431) (474,435) (478,432) (482,434) (490,434) (520,434) (556,434) (557,428) (557.5,415) (558,438) (558.5,428) (562,424) (565,432) (568,425) (571,431) (573,428) (573.5,410) (574,437) (574.5,427) (585,427) (600,428) (611,430) (611.5,442) (612,425) (612.5,432) (616,428) (620,436) (624,429) (628,435) (632,430) (636,434) (640,431) (640.5,417) (641,447) (641.5,433) (646,433) (652,434) (652.5,448) (653,432) (662,434) (672,434) (682,435) (682.5,417) (683,452) (683.5,437) (688,432) (692,441) (696,434) (700,440) (705,435) (710,439) (717,437) (718,432) (730,432) (745,434) (760,436) (768,437) (772,432) (774,448) (776,436) (778,450) (780,435) (781,417) (782,447) (784,440) (785,463) (786,438) (789,425) (790,452) (792,437) (795,445) (800,440) (805,442) (810,439) (882,439)};
\addplot[acc] coordinates {(178,530) (250,530) (300,530) (350,530) (351,530) (351.5,517) (352,538) (352.5,530) (356,528) (360,533) (364,528) (368,532) (372,529) (376,532) (380,530) (383,527) (383.5,536) (384,524) (384.5,530) (395,530) (405,531) (408,530) (408.5,542) (409,528) (409.5,530) (420,530) (430,529) (440,531) (452,530) (452.5,525) (453,535) (453.5,530) (470,530) (481,530) (482,525) (483,535) (484,530) (520,530) (556,530) (557,523) (558,537) (559,530) (565,529) (572,530) (573,517) (573.5,547) (574,530) (590,530) (605,530) (611,528) (612,512) (612.5,555) (613,530) (616,524) (620,536) (624,526) (628,534) (632,520) (633,540) (636,526) (640,522) (641,538) (644,528) (648,531) (650,497) (650.5,545) (651,530) (660,529) (670,531) (680,530) (683,465) (684,555) (684.5,530) (688,524) (692,537) (696,525) (700,535) (705,528) (710,532) (717,517) (717.5,540) (718,530) (730,531) (745,529) (760,530) (768,528) (771,520) (773,540) (775,522) (777,542) (779,521) (781,541) (783,523) (785,539) (787,524) (789,538) (792,526) (795,535) (800,530) (810,530) (882,530)};

% ---------- panel b ----------
\addplot[trace] table[x=x, y expr=\thisrow{m}+642] {\eegB};
\addplot[trace] table[x=x, y expr=\thisrow{h}+681] {\eegB};
\addplot[trace] table[x=x, y expr=\thisrow{e}+722] {\panelB};
\addplot[env, name path=bU] table[x=x, y expr=\thisrow{u}+770] {\panelB};
\addplot[env, name path=bL] table[x=x, y expr=\thisrow{l}+770] {\panelB};
\addplot[black] fill between[of=bU and bL];
\addplot[hair] coordinates {(539,742) (539.5,797)};
\addplot[acc] coordinates {(178,821) (260,821) (261,819.5) (262,821) (400,821) (460,821) (461,819.5) (462,821) (538,821) (538.5,802) (539.5,838) (540,824) (882,824)};
\addplot[acc] coordinates {(178,858) (538.5,858) (539,851) (541,854) (560,854) (882,854)};
\addplot[acc] coordinates {(178,883) (200,883) (260,882) (261,884) (262,883) (320,883) (380,882.5) (381,884) (382,883) (450,883) (500,882.5) (501,884) (502,883) (539,883) (539.3,878) (539.8,892) (540.3,883) (882,883)};

% ---------- panel c ----------
\addplot[trace] table[x=x, y expr=\thisrow{m}+979] {\eegC};
\addplot[trace] table[x=x, y expr=\thisrow{h}+1020] {\eegC};
\addplot[trace] table[x=x, y expr=\thisrow{e}+1072] {\panelC};
\addplot[env, name path=cU] table[x=x, y expr=\thisrow{u}+1117] {\panelC};
\addplot[env, name path=cL] table[x=x, y expr=\thisrow{l}+1117] {\panelC};
\addplot[black] fill between[of=cU and cL];
\addplot[hair] coordinates {(248,1109) (248.5,1125) (248.5,nan) (662,1105) (662.5,1128) (662.5,nan)
  (692,1098) (692.5,1135) (692.5,nan) (700,1100) (700.5,1132) (700.5,nan) (752,1108) (752.5,1129) (752.5,nan)
  (822,1090) (822.5,1129)};
\addplot[acc] coordinates {(178,1159) (400,1159) (503,1159) (505,1158) (580,1158) (606,1158) (610,1161.5) (640,1162) (658,1161) (659,1163.5) (660,1161.5) (691,1162) (692,1168) (692.5,1157) (700,1158) (780,1158) (822,1158) (822.5,1168) (823.5,1157) (825,1158) (882,1157)};
\addplot[acc] coordinates {(178,1188) (447,1188) (447.5,1184) (448,1192) (448.5,1188) (468,1188) (468.3,1185) (468.6,1191) (469,1188) (483,1188) (483.3,1185) (483.6,1191) (484,1188) (503,1188) (503.3,1185) (503.6,1191) (504,1188) (532,1188) (532.3,1184) (532.6,1192) (533,1188) (573,1188) (573.3,1184) (573.6,1191) (574,1188) (605,1188) (605.3,1185) (605.6,1191) (606,1188) (630,1187.5) (657,1187) (657.3,1184) (657.6,1190) (658,1187) (680,1186) (688,1184) (692,1182) (696,1181.5) (710,1183) (740,1186) (770,1189) (817,1190) (821,1188) (822,1184) (822.5,1193) (823,1186) (826,1187) (850,1187) (882,1188)};
\addplot[acc] coordinates {(178,1227) (280,1227) (400,1227) (450,1227) (450.3,1224) (450.6,1230) (451,1227) (490,1227) (490.3,1224) (490.6,1230) (491,1227) (532,1227) (532.3,1225) (532.6,1229) (533,1227) (572,1227) (572.3,1224) (572.6,1230) (573,1227) (604,1227) (604.3,1225) (604.6,1229) (605,1227) (687,1227) (688,1229) (690,1226) (692,1228) (700,1227) (752,1227) (752.3,1224) (752.6,1230) (753,1227) (821,1227) (821.5,1222) (822,1232) (822.5,1225) (824,1228) (882,1227)};

% ---------- panel d ----------
\addplot[trace] table[x=x, y expr=\thisrow{m}+1316] {\eegD};
\addplot[trace] table[x=x, y expr=\thisrow{h}+1369] {\eegD};
\addplot[trace] table[x=x, y expr=\thisrow{e}+1422] {\panelD};
\addplot[env, name path=dU] table[x=x, y expr=\thisrow{u}+1474] {\panelD};
\addplot[env, name path=dL] table[x=x, y expr=\thisrow{l}+1474] {\panelD};
\addplot[black] fill between[of=dU and dL];
\addplot[hair] coordinates {(358,1465) (358.5,1484) (358.5,nan) (857,1457) (857.5,1503)};
\addplot[acc, line width=0.7pt] coordinates {(178,1517) (400,1517) (425,1517) (435,1515.5) (445,1514) (455,1513) (465,1514) (475,1516.5) (485,1518) (496,1518) (496.5,1510) (497.5,1525) (498,1518) (510,1518) (560,1517) (650,1516) (750,1515) (856,1515) (856.5,1510) (857.5,1522) (858,1518) (882,1518)};
\addplot[acc, line width=0.7pt] coordinates {(178,1546) (359,1546) (359.5,1543) (360,1549) (360.5,1546) (413,1546) (413.5,1543) (414,1549) (414.5,1546) (433,1546) (440,1550) (448,1557) (456,1565) (464,1571) (472,1573) (477,1571) (479,1566) (481,1558) (484,1552) (488,1549) (492,1546) (496,1545) (497,1545) (497.5,1537) (500,1538) (560,1539) (620,1541) (700,1543) (760,1545) (800,1548) (830,1551) (856,1553) (856.5,1538) (857.5,1563) (858,1543) (862,1544) (882,1545)};
\addplot[acc, line width=0.7pt] coordinates {(178,1593) (357,1593) (357.5,1585) (358,1603) (358.5,1593) (396,1593) (396.5,1587) (397,1599) (397.5,1593) (402,1593) (402.5,1587) (403,1599) (403.5,1593) (411,1593) (411.5,1588) (412,1598) (412.5,1593) (433,1593) (445,1595) (455,1597) (465,1601) (472,1603) (480,1600) (488,1595) (493,1592) (496,1592) (496.5,1583) (497.5,1600) (498,1593) (560,1593) (700,1593) (856,1593) (856.5,1583) (857.5,1605) (858,1593) (882,1593)};

% ---------- scale bars ----------
\addplot[black, line width=1.5pt, mark=none, unbounded coords=jump] coordinates {
  (893,92) (893,108) (893,nan) (893,128) (893,144) (893,nan) (893,182) (893,193) (893,nan)
  (893,237) (893,253) (893,nan) (893,347) (893,358) (893,nan) (893,434) (893,446) (893,nan)
  (893,517) (893,548) (893,nan)
  (893,633) (893,650) (893,nan) (893,673) (893,689) (893,nan) (893,712) (893,723) (893,nan)
  (893,760) (893,777) (893,nan) (893,817) (893,829) (893,nan) (893,847) (893,858) (893,nan)
  (893,868) (893,900) (893,nan)
  (893,969) (893,985) (893,nan) (893,1181) (893,1192) (893,nan) (893,1212) (893,1243) (893,nan)
  (893,1308) (893,1323) (893,nan) (893,1362) (893,1377) (893,nan) (893,1414) (893,1426) (893,nan)
  (893,1467) (893,1482) (893,nan) (893,1510) (893,1522) (893,nan) (893,1539) (893,1551) (893,nan)
  (893,1577) (893,1608)};

% ---------- labels ----------
\node[lab] at (axis cs:138,106) {Mesopallium};
\node[lab] at (axis cs:138,144) {Hyperpallium};
\node[lab] at (axis cs:138,197) {EOG};
\node[lab] at (axis cs:138,254) {EMG};
\node[lab] at (axis cs:138,358) {Sway ACC};
\node[lab] at (axis cs:138,447) {Surge ACC};
\node[lab] at (axis cs:138,536) {Heave ACC};
\node[plet] at (axis cs:21,572.5) {a};

\node[lab] at (axis cs:138,647) {Mesopallium};
\node[lab] at (axis cs:138,686) {Hyperpallium};
\node[lab] at (axis cs:138,728) {EOG};
\node[lab] at (axis cs:138,774) {EMG};
\node[lab] at (axis cs:138,824) {Sway ACC};
\node[lab] at (axis cs:138,860) {Surge ACC};
\node[lab] at (axis cs:138,890) {Heave ACC};
\node[plet] at (axis cs:21,917) {b};

\node[lab] at (axis cs:138,985) {Mesopallium};
\node[lab] at (axis cs:138,1025) {Hyperpallium};
\node[lab] at (axis cs:138,1080) {EOG};
\node[lab] at (axis cs:138,1122) {EMG};
\node[lab] at (axis cs:138,1161) {Sway ACC};
\node[lab] at (axis cs:138,1194) {Surge ACC};
\node[lab] at (axis cs:138,1223) {Heave ACC};
\node[plet] at (axis cs:21,1257) {c};

\node[lab] at (axis cs:138,1321) {Mesopallium};
\node[lab] at (axis cs:138,1372) {Hyperpallium};
\node[lab] at (axis cs:138,1426) {EOG};
\node[lab] at (axis cs:138,1480) {EMG};
\node[lab] at (axis cs:138,1522) {Sway ACC};
\node[lab] at (axis cs:138,1554) {Surge ACC};
\node[lab] at (axis cs:138,1595) {Heave ACC};
\node[plet] at (axis cs:21,1629) {d};
\end{axis}
\end{tikzpicture}
\end{document}
